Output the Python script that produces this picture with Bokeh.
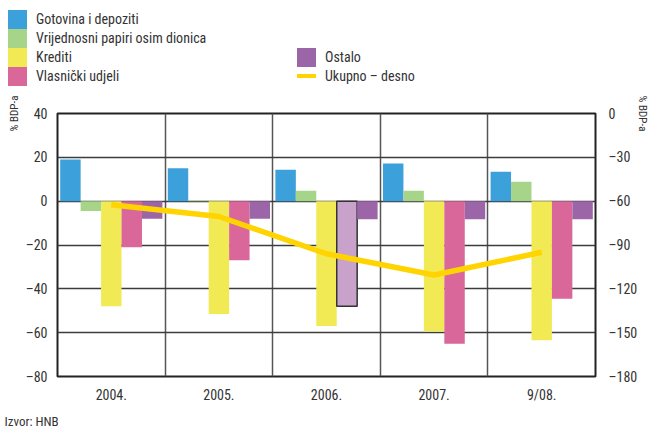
from bokeh.plotting import figure
from bokeh.layouts import column
from bokeh.models import (Range1d, LinearAxis, FixedTicker, ColumnDataSource,
                          Title, Div)
from bokeh.embed import file_html
from bokeh.resources import INLINE

# ---------------- data ----------------
categories = ["2004.", "2005.", "2006.", "2007.", "9/08."]
gotovina = [19.0, 15.0, 14.3, 17.2, 13.4]          # Gotovina i depoziti
vrijednosni = [-4.5, 0.3, 4.7, 4.7, 8.9]           # Vrijednosni papiri osim dionica
krediti = [-48.0, -51.5, -57.0, -59.5, -63.5]      # Krediti
vlasnicki = [-21.0, -27.0, -48.0, -65.0, -44.5]    # Vlasnicki udjeli
ostalo = [-8.0, -8.0, -8.3, -8.3, -8.3]            # Ostalo
ukupno = [-62.5, -70.5, -96.0, -110.5, -95.0]      # Ukupno - desno (right axis)
highlight_index = 2                                 # outlined bar (2006. Vlasnicki udjeli)
left_ticks = [-80, -60, -40, -20, 0, 20, 40]
right_ticks = [-180, -150, -120, -90, -60, -30, 0]

series_names = ["Gotovina i depoziti", "Vrijednosni papiri osim dionica",
                "Krediti", "Vlasnički udjeli", "Ostalo"]
total_name = "Ukupno \u2013 desno"
series_values = [gotovina, vrijednosni, krediti, vlasnicki, ostalo]
series_colors = ["#3CA0DB", "#A6D589", "#F2EA55", "#D9679A", "#9C65A8"]
highlight_color = "#C9A2CC"
line_color = "#FFD400"

FONT = "'Roboto Condensed', 'DejaVu Sans Condensed', 'Liberation Sans Narrow', sans-serif"
TXT = "#333333"

W = 652
LEG_H = 90                 # height of the legend strip on top
H = 434 - LEG_H            # height of the chart figure
FL, FR, FT, FB = 57, 595, 113 - LEG_H, 376 - LEG_H   # frame edges in chart canvas px

# ================= legend strip (HTML) =================
SQ = 19
col1_x, col2_x, top_y, gap = 8, 297, 10, 9
entries = [(col1_x, top_y + i * SQ, series_colors[i], series_names[i], "box") for i in range(4)]
entries += [(col2_x, top_y + 2 * SQ, series_colors[4], series_names[4], "box"),
            (col2_x, top_y + 3 * SQ, line_color, total_name, "line")]
parts = []
for x, y, c, name, kind in entries:
    if kind == "box":
        parts.append(f'<div style="position:absolute;left:{x}px;top:{y}px;width:{SQ}px;'
                     f'height:{SQ}px;background:{c};"></div>')
    else:
        parts.append(f'<div style="position:absolute;left:{x}px;top:{y + 7}px;width:{SQ}px;'
                     f'height:4px;background:{c};"></div>')
    parts.append(f'<div style="position:absolute;left:{x + SQ + gap}px;top:{y}px;'
                 f'height:{SQ}px;line-height:{SQ}px;white-space:nowrap;">{name}</div>')
legend_html = (f'<div style="position:relative;width:{W}px;height:{LEG_H}px;'
               f'font-family:{FONT};font-size:14px;color:{TXT};margin:0;padding:0;">'
               + "".join(parts) + "</div>")
legend_div = Div(text=legend_html, width=W, height=LEG_H, margin=0)

# ================= chart =================
p = figure(width=W, height=H, output_backend="svg", toolbar_location=None,
           x_range=Range1d(0, len(categories)), y_range=Range1d(-80, 40),
           min_border_left=FL, min_border_right=W - FR,
           min_border_top=FT, min_border_bottom=H - FB,
           background_fill_color="white", border_fill_color="white")
p.extra_y_ranges = {"right": Range1d(-180, 0)}
p.outline_line_color = "#222222"
p.outline_line_width = 2

# grids
p.xgrid.ticker = FixedTicker(ticks=[i for i in range(1, len(categories))])
p.xgrid.grid_line_color = "#555555"
p.xgrid.grid_line_width = 1.5
p.ygrid.ticker = FixedTicker(ticks=[t for t in left_ticks if -80 < t < 40])
p.ygrid.grid_line_color = "#3c3c3c"
p.ygrid.grid_line_width = 1.3


def dash(v):
    return str(v).replace("-", "\u2013")


def style_axis(ax, standoff):
    ax.axis_line_color = None
    ax.major_tick_line_color = None
    ax.minor_tick_line_color = None
    ax.major_tick_out = 0
    ax.major_tick_in = 0
    ax.minor_tick_out = 0
    ax.major_label_standoff = standoff
    ax.major_label_text_font = FONT
    ax.major_label_text_font_size = "14px"
    ax.major_label_text_color = TXT
    ax.axis_label_text_font = FONT
    ax.axis_label_text_font_size = "11px"
    ax.axis_label_text_font_style = "normal"
    ax.axis_label_text_color = TXT


# x axis
xax = p.xaxis[0]
centers = [i + 0.5 for i in range(len(categories))]
xax.ticker = FixedTicker(ticks=centers)
xax.major_label_overrides = {c: cat for c, cat in zip(centers, categories)}
style_axis(xax, 10)

# left axis
yax = p.yaxis[0]
yax.ticker = FixedTicker(ticks=left_ticks)
yax.major_label_overrides = {t: dash(t) for t in left_ticks}
style_axis(yax, 10)
yax.axis_label = "% BDP-a"
yax.axis_label_align = "end"
yax.axis_label_standoff = 2

# right axis
rax = LinearAxis(y_range_name="right")
rax.ticker = FixedTicker(ticks=right_ticks)
rax.major_label_overrides = {t: dash(t) for t in right_ticks}
style_axis(rax, 13)
rax.axis_label = "% BDP-a"
rax.axis_label_align = "end"
rax.axis_label_standoff = -4
p.add_layout(rax, "right")

# source note
p.add_layout(Title(text="Izvor: HNB", align="left", offset=8 - FL - 4, standoff=12,
                   text_font=FONT, text_font_size="13px", text_font_style="normal",
                   text_color=TXT), "below")

# ---------------- bars ----------------
bw = 0.19
n = len(series_values)
for k, (vals, col) in enumerate(zip(series_values, series_colors)):
    off = (k - (n - 1) / 2) * bw
    fills = [col] * len(vals)
    outl = [0.0] * len(vals)
    if k == 3:
        fills[highlight_index] = highlight_color
        outl[highlight_index] = 1.0
    src = ColumnDataSource(dict(x=[c + off for c in centers], top=vals,
                                fill=fills, la=outl))
    p.vbar(x="x", top="top", bottom=0, width=bw, source=src,
           fill_color="fill", line_color="#333333", line_alpha="la",
           line_width=1.5)

# total line (right axis)
p.line(x=centers, y=ukupno, y_range_name="right",
       line_color=line_color, line_width=5.5)

layout = column(legend_div, p, spacing=0)
open("out.html", "w").write(file_html(layout, INLINE))
